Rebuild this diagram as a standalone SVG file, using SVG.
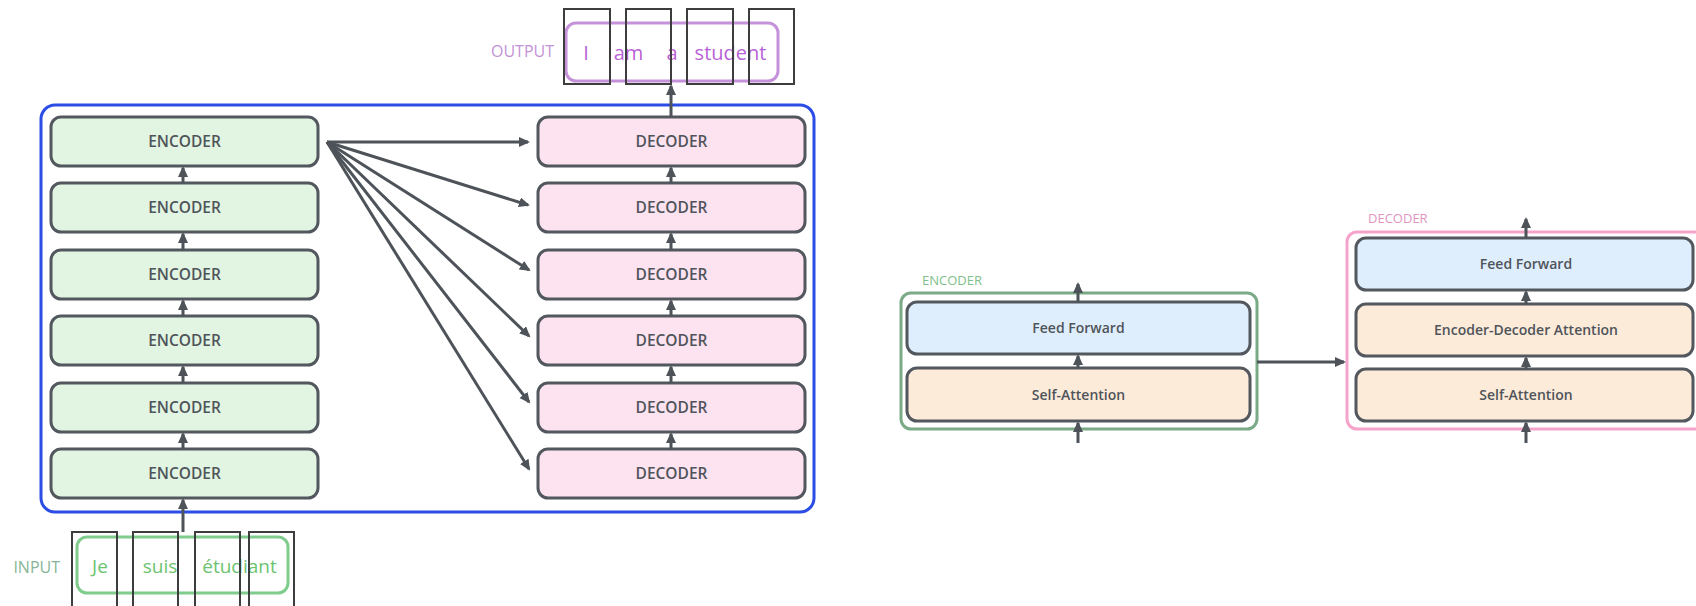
<svg xmlns="http://www.w3.org/2000/svg" width="1696" height="606" viewBox="0 0 1696 606">
<style>
text{font-family:"Open Sans","Liberation Sans",sans-serif}
.box{stroke:#53585e;stroke-width:3}
.enc{fill:#e2f5e2}
.dec{fill:#fde3f0}
.ff{fill:#dfeefc}
.att{fill:#fdebd9}
.bt{font-size:15.5px;font-weight:600;fill:#4f545a;text-anchor:middle}
.st{font-size:14px;font-weight:600;fill:#4f545a;text-anchor:middle}
.con line{stroke:#4d5359;stroke-width:3;fill:none}
.tok{fill:none;stroke:#3d3d3d;stroke-width:2}
</style>
<defs>
<marker id="ah" markerUnits="userSpaceOnUse" markerWidth="12" markerHeight="11" refX="9" refY="5" orient="auto">
<path d="M0,0 L11,5 L0,10 z" fill="#4d5359"/>
</marker>
</defs>

<g id="stack-container">
<rect x="41" y="105" width="773" height="407" rx="14" fill="none" stroke="#2b4de6" stroke-width="3"/>
</g>

<g id="enc1"><rect class="box enc" x="51" y="117" width="267" height="49" rx="10"/><text class="bt" x="184.5" y="147">ENCODER</text></g>
<g id="enc2"><rect class="box enc" x="51" y="183" width="267" height="49" rx="10"/><text class="bt" x="184.5" y="213">ENCODER</text></g>
<g id="enc3"><rect class="box enc" x="51" y="250" width="267" height="49" rx="10"/><text class="bt" x="184.5" y="280">ENCODER</text></g>
<g id="enc4"><rect class="box enc" x="51" y="316" width="267" height="49" rx="10"/><text class="bt" x="184.5" y="346">ENCODER</text></g>
<g id="enc5"><rect class="box enc" x="51" y="383" width="267" height="49" rx="10"/><text class="bt" x="184.5" y="413">ENCODER</text></g>
<g id="enc6"><rect class="box enc" x="51" y="449" width="267" height="49" rx="10"/><text class="bt" x="184.5" y="479">ENCODER</text></g>

<g id="dec1"><rect class="box dec" x="538" y="117" width="267" height="49" rx="10"/><text class="bt" x="671.5" y="147">DECODER</text></g>
<g id="dec2"><rect class="box dec" x="538" y="183" width="267" height="49" rx="10"/><text class="bt" x="671.5" y="213">DECODER</text></g>
<g id="dec3"><rect class="box dec" x="538" y="250" width="267" height="49" rx="10"/><text class="bt" x="671.5" y="280">DECODER</text></g>
<g id="dec4"><rect class="box dec" x="538" y="316" width="267" height="49" rx="10"/><text class="bt" x="671.5" y="346">DECODER</text></g>
<g id="dec5"><rect class="box dec" x="538" y="383" width="267" height="49" rx="10"/><text class="bt" x="671.5" y="413">DECODER</text></g>
<g id="dec6"><rect class="box dec" x="538" y="449" width="267" height="49" rx="10"/><text class="bt" x="671.5" y="479">DECODER</text></g>

<g id="output">
<text x="554" y="57" font-size="16" fill="#c392d6" text-anchor="end">OUTPUT</text>
<rect x="566" y="23" width="212" height="58" rx="10" fill="none" stroke="#c592d9" stroke-width="3"/>
<g font-size="20" fill="#b962d6">
<text x="586" y="60" text-anchor="middle">I</text>
<text x="628.5" y="60" text-anchor="middle">am</text>
<text x="672" y="60" text-anchor="middle">a</text>
<text x="730.5" y="60" text-anchor="middle">student</text>
</g>
<rect class="tok" x="564" y="9" width="46" height="75"/>
<rect class="tok" x="626" y="9" width="45" height="75"/>
<rect class="tok" x="687" y="9" width="46" height="75"/>
<rect class="tok" x="749" y="9" width="45" height="75"/>
</g>

<g id="input">
<text x="60" y="573" font-size="16" fill="#86b696" text-anchor="end">INPUT</text>
<rect x="77" y="537" width="211" height="56" rx="10" fill="none" stroke="#7fcc8c" stroke-width="3"/>
<g font-size="19" fill="#6cc470">
<text x="100" y="573" text-anchor="middle">Je</text>
<text x="160" y="573" text-anchor="middle">suis</text>
<text x="239.5" y="573" text-anchor="middle">étudiant</text>
</g>
<rect class="tok" x="72" y="532" width="45" height="80"/>
<rect class="tok" x="133" y="532" width="45" height="80"/>
<rect class="tok" x="195" y="532" width="45" height="80"/>
<rect class="tok" x="249" y="532" width="45" height="80"/>
</g>

<g id="encoder-detail">
<text x="922" y="285" font-size="13" fill="#7fbf8c">ENCODER</text>
<rect x="901" y="293" width="356" height="136" rx="10" fill="none" stroke="#7aab86" stroke-width="3"/>
<g id="enc-ff"><rect class="box ff" x="907" y="302" width="343" height="52" rx="10"/><text class="st" x="1078.5" y="333">Feed Forward</text></g>
<g id="enc-sa"><rect class="box att" x="907" y="368" width="343" height="53" rx="10"/><text class="st" x="1078.5" y="399.5">Self-Attention</text></g>
</g>

<g id="decoder-detail">
<text x="1368" y="223" font-size="13" fill="#e294bf">DECODER</text>
<rect x="1347" y="232" width="360" height="197" rx="10" fill="none" stroke="#f5a3cb" stroke-width="3"/>
<g id="dec-ff"><rect class="box ff" x="1356" y="238" width="337" height="52" rx="10"/><text class="st" x="1526" y="269">Feed Forward</text></g>
<g id="dec-eda"><rect class="box att" x="1356" y="304" width="337" height="52" rx="10"/><text class="st" x="1526" y="335">Encoder-Decoder Attention</text></g>
<g id="dec-sa"><rect class="box att" x="1356" y="369" width="337" height="52" rx="10"/><text class="st" x="1526" y="400">Self-Attention</text></g>
</g>

<g id="connectors" class="con">
<line x1="183" y1="183" x2="183" y2="168" marker-end="url(#ah)"/>
<line x1="183" y1="250" x2="183" y2="234" marker-end="url(#ah)"/>
<line x1="183" y1="316" x2="183" y2="301" marker-end="url(#ah)"/>
<line x1="183" y1="383" x2="183" y2="367" marker-end="url(#ah)"/>
<line x1="183" y1="449" x2="183" y2="434" marker-end="url(#ah)"/>
<line x1="183" y1="532" x2="183" y2="500" marker-end="url(#ah)"/>
<line x1="671" y1="183" x2="671" y2="168" marker-end="url(#ah)"/>
<line x1="671" y1="250" x2="671" y2="234" marker-end="url(#ah)"/>
<line x1="671" y1="316" x2="671" y2="301" marker-end="url(#ah)"/>
<line x1="671" y1="383" x2="671" y2="367" marker-end="url(#ah)"/>
<line x1="671" y1="449" x2="671" y2="434" marker-end="url(#ah)"/>
<line x1="671" y1="117" x2="671" y2="86" marker-end="url(#ah)"/>
<line x1="327" y1="142" x2="528" y2="142" marker-end="url(#ah)"/>
<line x1="327" y1="142" x2="528" y2="205" marker-end="url(#ah)"/>
<line x1="327" y1="142" x2="529" y2="270" marker-end="url(#ah)"/>
<line x1="327" y1="142" x2="529" y2="336" marker-end="url(#ah)"/>
<line x1="327" y1="142" x2="529" y2="402" marker-end="url(#ah)"/>
<line x1="327" y1="142" x2="529" y2="469" marker-end="url(#ah)"/>
<line x1="1078" y1="302" x2="1078" y2="284" marker-end="url(#ah)"/>
<line x1="1078" y1="368" x2="1078" y2="356" marker-end="url(#ah)"/>
<line x1="1078" y1="443" x2="1078" y2="423" marker-end="url(#ah)"/>
<line x1="1257" y1="362" x2="1344" y2="362" marker-end="url(#ah)"/>
<line x1="1526" y1="238" x2="1526" y2="219" marker-end="url(#ah)"/>
<line x1="1526" y1="304" x2="1526" y2="292" marker-end="url(#ah)"/>
<line x1="1526" y1="369" x2="1526" y2="358" marker-end="url(#ah)"/>
<line x1="1526" y1="443" x2="1526" y2="423" marker-end="url(#ah)"/>
</g>
</svg>
